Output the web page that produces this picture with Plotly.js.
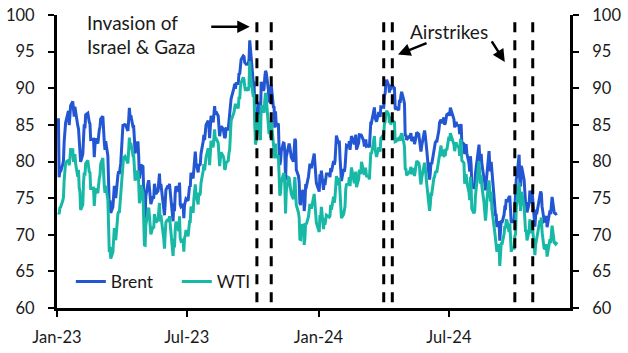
<!DOCTYPE html>
<html>
<head>
<meta charset="utf-8">
<script src="https://cdn.plot.ly/plotly-3.0.1.min.js"></script>
<style>html,body{margin:0;padding:0;background:#fff;}#chart{width:628px;height:353px;}</style>
</head>
<body>
<div id="chart"></div>
<script>
// ---- Data (daily closes, US$ per barrel) ----
const dates2023 = [
'2023-01-03','2023-01-04','2023-01-05','2023-01-06','2023-01-09','2023-01-10','2023-01-11','2023-01-12','2023-01-13','2023-01-17','2023-01-18','2023-01-19','2023-01-20','2023-01-23','2023-01-24','2023-01-25','2023-01-26','2023-01-27','2023-01-30','2023-01-31',
'2023-02-01','2023-02-02','2023-02-03','2023-02-06','2023-02-07','2023-02-08','2023-02-09','2023-02-10','2023-02-13','2023-02-14','2023-02-15','2023-02-16','2023-02-17','2023-02-21','2023-02-22','2023-02-23','2023-02-24','2023-02-27','2023-02-28',
'2023-03-01','2023-03-02','2023-03-03','2023-03-06','2023-03-07','2023-03-08','2023-03-09','2023-03-10','2023-03-13','2023-03-14','2023-03-15','2023-03-16','2023-03-17','2023-03-20','2023-03-21','2023-03-22','2023-03-23','2023-03-24','2023-03-27','2023-03-28','2023-03-29','2023-03-30','2023-03-31',
'2023-04-03','2023-04-04','2023-04-05','2023-04-06','2023-04-10','2023-04-11','2023-04-12','2023-04-13','2023-04-14','2023-04-17','2023-04-18','2023-04-19','2023-04-20','2023-04-21','2023-04-24','2023-04-25','2023-04-26','2023-04-27','2023-04-28',
'2023-05-01','2023-05-02','2023-05-03','2023-05-04','2023-05-05','2023-05-08','2023-05-09','2023-05-10','2023-05-11','2023-05-12','2023-05-15','2023-05-16','2023-05-17','2023-05-18','2023-05-19','2023-05-22','2023-05-23','2023-05-24','2023-05-25','2023-05-26','2023-05-30','2023-05-31',
'2023-06-01','2023-06-02','2023-06-05','2023-06-06','2023-06-07','2023-06-08','2023-06-09','2023-06-12','2023-06-13','2023-06-14','2023-06-15','2023-06-16','2023-06-20','2023-06-21','2023-06-22','2023-06-23','2023-06-26','2023-06-27','2023-06-28','2023-06-29','2023-06-30',
'2023-07-03','2023-07-05','2023-07-06','2023-07-07','2023-07-10','2023-07-11','2023-07-12','2023-07-13','2023-07-14','2023-07-17','2023-07-18','2023-07-19','2023-07-20','2023-07-21','2023-07-24','2023-07-25','2023-07-26','2023-07-27','2023-07-28','2023-07-31',
'2023-08-01','2023-08-02','2023-08-03','2023-08-04','2023-08-07','2023-08-08','2023-08-09','2023-08-10','2023-08-11','2023-08-14','2023-08-15','2023-08-16','2023-08-17','2023-08-18','2023-08-21','2023-08-22','2023-08-23','2023-08-24','2023-08-25','2023-08-28','2023-08-29','2023-08-30','2023-08-31',
'2023-09-01','2023-09-05','2023-09-06','2023-09-07','2023-09-08','2023-09-11','2023-09-12','2023-09-13','2023-09-14','2023-09-15','2023-09-18','2023-09-19','2023-09-20','2023-09-21','2023-09-22','2023-09-25','2023-09-26','2023-09-27','2023-09-28','2023-09-29',
'2023-10-02','2023-10-03','2023-10-04','2023-10-05','2023-10-06','2023-10-09','2023-10-10','2023-10-11','2023-10-12','2023-10-13','2023-10-16','2023-10-17','2023-10-18','2023-10-19','2023-10-20','2023-10-23','2023-10-24','2023-10-25','2023-10-26','2023-10-27','2023-10-30','2023-10-31',
'2023-11-01','2023-11-02','2023-11-03','2023-11-06','2023-11-07','2023-11-08','2023-11-09','2023-11-10','2023-11-13','2023-11-14','2023-11-15','2023-11-16','2023-11-17','2023-11-20','2023-11-21','2023-11-22','2023-11-24','2023-11-27','2023-11-28','2023-11-29','2023-11-30',
'2023-12-01','2023-12-04','2023-12-05','2023-12-06','2023-12-07','2023-12-08','2023-12-11','2023-12-12','2023-12-13','2023-12-14','2023-12-15','2023-12-18','2023-12-19','2023-12-20','2023-12-21','2023-12-22','2023-12-26','2023-12-27','2023-12-28','2023-12-29'
];
const brent2023 = [
85.9,77.84,78.69,78.57,79.65,80.10,82.67,83.96,85.28,86.92,84.98,86.16,87.63,88.19,86.13,86.12,87.47,86.66,84.90,84.49,
82.84,82.17,79.94,80.99,83.69,85.09,84.50,86.39,86.61,85.58,85.38,85.14,83.00,83.05,80.60,82.21,83.16,82.45,83.89,
84.31,84.75,85.83,86.18,83.29,82.66,81.59,82.78,80.77,77.45,73.69,74.70,72.97,73.79,75.32,76.69,75.91,74.99,78.12,78.65,78.28,79.27,79.77,
84.93,84.94,84.99,85.12,84.18,85.61,87.33,86.09,86.31,84.76,84.77,83.12,81.10,81.66,82.73,80.77,77.69,78.37,79.54,
79.31,75.32,72.33,72.50,75.30,77.01,77.44,76.41,74.98,74.17,75.23,74.91,76.96,75.86,75.58,75.99,76.84,78.36,76.26,76.95,73.54,72.66,
74.28,76.13,76.71,76.29,76.95,75.96,74.79,71.84,74.29,73.20,75.67,76.61,75.90,77.12,74.14,73.85,74.18,72.26,74.03,74.34,74.90,
74.65,76.65,76.52,78.47,77.69,79.40,80.11,81.36,79.87,78.50,79.63,79.46,79.64,81.07,82.74,83.64,82.92,84.24,84.99,85.56,
84.91,83.20,85.14,86.24,85.34,86.17,87.55,86.40,86.81,86.21,84.89,83.45,84.12,84.80,84.46,84.03,83.21,83.36,84.48,84.42,85.49,85.86,86.86,
88.55,90.04,90.60,89.92,90.65,90.64,92.06,91.88,93.70,93.93,94.43,94.34,93.53,93.30,93.27,93.29,93.96,96.55,95.38,95.31,
90.71,90.92,85.81,84.07,84.58,88.15,87.65,85.82,86.00,90.89,89.65,89.90,91.50,92.38,92.16,89.83,88.07,90.13,87.93,90.48,87.45,87.41,
84.63,86.85,84.89,85.18,81.61,79.54,80.01,81.43,82.52,82.47,81.18,77.42,80.61,82.32,82.45,81.96,80.58,79.98,81.68,83.10,82.83,
78.88,78.03,77.20,74.30,74.05,75.84,76.03,73.24,74.26,76.61,76.55,77.95,79.23,79.70,79.39,79.07,81.07,79.65,78.39,77.04
];
const wti2023 = [
73.0,72.84,73.67,73.77,74.63,75.12,77.41,78.39,79.86,80.18,79.48,80.33,81.64,81.62,80.13,80.15,81.01,79.68,77.90,78.87,
76.41,75.88,73.39,74.11,77.14,78.47,78.06,79.72,80.14,79.06,78.59,78.49,76.34,76.36,73.95,75.39,76.32,75.68,77.05,
77.69,78.16,79.68,80.46,77.58,76.66,75.72,76.68,74.80,71.33,67.61,68.35,66.74,67.64,69.33,70.90,69.96,69.26,72.81,73.20,72.97,74.37,75.67,
80.42,80.71,80.61,80.70,79.74,81.53,83.26,82.16,82.52,80.83,80.86,79.16,77.37,77.87,78.76,77.07,74.30,74.76,76.78,
75.66,71.66,68.60,68.56,71.34,73.16,73.71,72.56,70.87,70.04,71.11,70.86,72.83,71.86,71.69,71.99,72.91,74.34,71.83,72.67,69.46,68.09,
70.10,71.74,72.15,71.74,72.53,71.29,70.17,67.12,69.42,68.27,70.62,71.78,70.50,72.53,69.51,69.16,69.37,67.70,69.56,69.86,70.64,
69.79,71.79,71.80,73.86,72.99,74.83,75.75,76.89,75.42,74.15,75.75,75.35,75.63,77.07,78.74,79.63,78.78,80.09,80.58,81.80,
81.37,79.49,81.55,82.82,81.94,82.92,84.40,82.82,83.19,82.51,80.99,79.38,80.39,81.25,80.72,80.35,78.89,79.05,79.83,80.10,81.16,81.63,83.63,
85.55,86.69,87.54,87.87,87.51,87.29,88.84,88.52,90.16,90.77,91.48,91.20,90.28,89.63,90.03,89.68,90.39,93.68,91.71,90.79,
88.82,89.23,84.22,82.31,82.79,86.38,85.97,83.49,82.91,87.69,86.66,86.66,88.32,89.37,88.75,85.49,83.74,85.39,83.21,85.54,82.31,81.02,
80.44,82.46,80.51,80.82,77.37,75.33,75.74,77.17,78.26,78.26,76.66,72.90,75.89,77.83,77.77,77.10,75.54,74.86,76.41,77.86,75.96,
74.07,73.04,72.32,69.38,69.34,71.23,71.32,68.61,69.47,71.58,71.43,72.47,73.44,74.22,73.89,73.56,75.57,74.11,71.77,71.65
];
const dates2024 = [
'2024-01-02','2024-01-03','2024-01-04','2024-01-05','2024-01-08','2024-01-09','2024-01-10','2024-01-11','2024-01-12','2024-01-16','2024-01-17','2024-01-18','2024-01-19','2024-01-22','2024-01-23','2024-01-24','2024-01-25','2024-01-26','2024-01-29','2024-01-30','2024-01-31',
'2024-02-01','2024-02-02','2024-02-05','2024-02-06','2024-02-07','2024-02-08','2024-02-09','2024-02-12','2024-02-13','2024-02-14','2024-02-15','2024-02-16','2024-02-20','2024-02-21','2024-02-22','2024-02-23','2024-02-26','2024-02-27','2024-02-28','2024-02-29',
'2024-03-01','2024-03-04','2024-03-05','2024-03-06','2024-03-07','2024-03-08','2024-03-11','2024-03-12','2024-03-13','2024-03-14','2024-03-15','2024-03-18','2024-03-19','2024-03-20','2024-03-21','2024-03-22','2024-03-25','2024-03-26','2024-03-27','2024-03-28',
'2024-04-01','2024-04-02','2024-04-03','2024-04-04','2024-04-05','2024-04-08','2024-04-09','2024-04-10','2024-04-11','2024-04-12','2024-04-15','2024-04-16','2024-04-17','2024-04-18','2024-04-19','2024-04-22','2024-04-23','2024-04-24','2024-04-25','2024-04-26','2024-04-29','2024-04-30',
'2024-05-01','2024-05-02','2024-05-03','2024-05-06','2024-05-07','2024-05-08','2024-05-09','2024-05-10','2024-05-13','2024-05-14','2024-05-15','2024-05-16','2024-05-17','2024-05-20','2024-05-21','2024-05-22','2024-05-23','2024-05-24','2024-05-28','2024-05-29','2024-05-30','2024-05-31',
'2024-06-03','2024-06-04','2024-06-05','2024-06-06','2024-06-07','2024-06-10','2024-06-11','2024-06-12','2024-06-13','2024-06-14','2024-06-17','2024-06-18','2024-06-20','2024-06-21','2024-06-24','2024-06-25','2024-06-26','2024-06-27','2024-06-28',
'2024-07-01','2024-07-02','2024-07-03','2024-07-05','2024-07-08','2024-07-09','2024-07-10','2024-07-11','2024-07-12','2024-07-15','2024-07-16','2024-07-17','2024-07-18','2024-07-19','2024-07-22','2024-07-23','2024-07-24','2024-07-25','2024-07-26','2024-07-29','2024-07-30','2024-07-31',
'2024-08-01','2024-08-02','2024-08-05','2024-08-06','2024-08-07','2024-08-08','2024-08-09','2024-08-12','2024-08-13','2024-08-14','2024-08-15','2024-08-16','2024-08-19','2024-08-20','2024-08-21','2024-08-22','2024-08-23','2024-08-26','2024-08-27','2024-08-28','2024-08-29','2024-08-30',
'2024-09-03','2024-09-04','2024-09-05','2024-09-06','2024-09-09','2024-09-10','2024-09-11','2024-09-12','2024-09-13','2024-09-16','2024-09-17','2024-09-18','2024-09-19','2024-09-20','2024-09-23','2024-09-24','2024-09-25','2024-09-26','2024-09-27','2024-09-30',
'2024-10-01','2024-10-02','2024-10-03','2024-10-04','2024-10-07','2024-10-08','2024-10-09','2024-10-10','2024-10-11','2024-10-14','2024-10-15','2024-10-16','2024-10-17','2024-10-18','2024-10-21','2024-10-22','2024-10-23','2024-10-24','2024-10-25','2024-10-28','2024-10-29','2024-10-30','2024-10-31',
'2024-11-01','2024-11-04','2024-11-05','2024-11-06','2024-11-07','2024-11-08','2024-11-11','2024-11-12','2024-11-13','2024-11-14','2024-11-15','2024-11-18','2024-11-19','2024-11-20','2024-11-21','2024-11-22','2024-11-25','2024-11-26','2024-11-27','2024-11-29'
];
const brent2024 = [
75.89,78.25,77.59,78.76,76.12,77.59,76.80,77.41,78.29,78.29,77.88,79.10,78.56,80.06,79.55,80.04,82.43,83.55,82.40,82.87,80.55,
78.70,77.33,78.99,78.59,79.21,81.63,82.19,82.00,82.77,81.60,82.86,83.47,82.34,83.03,83.67,81.62,82.53,83.65,83.68,83.62,
83.55,82.80,82.04,82.96,83.00,82.08,82.21,81.92,84.03,85.42,85.34,86.89,87.38,85.95,85.78,85.43,86.75,86.25,86.09,87.48,
87.42,88.92,89.35,90.65,91.17,90.38,89.42,90.48,89.74,90.45,90.10,90.02,87.29,87.11,87.29,87.00,88.42,88.02,89.01,89.50,88.40,87.86,
83.44,83.67,82.96,83.33,83.16,83.58,83.88,82.79,83.36,82.38,82.75,83.27,83.98,83.71,82.88,81.90,81.36,82.12,84.22,83.60,81.86,81.62,
78.36,77.52,78.41,79.87,79.62,81.63,81.92,82.60,82.75,82.62,84.25,85.33,85.71,85.24,86.01,85.01,85.25,86.39,86.41,
86.60,86.24,87.34,86.54,85.75,84.66,85.08,85.40,85.03,84.85,83.73,85.08,85.11,82.63,82.40,81.01,81.71,82.37,81.13,79.78,78.63,80.72,
79.52,76.81,76.30,76.48,78.33,79.16,79.66,82.30,80.69,79.76,81.04,79.68,77.66,77.20,76.05,77.22,79.02,81.43,79.55,78.65,79.94,78.80,
73.75,72.70,72.69,71.06,71.84,69.19,70.61,71.97,71.61,72.75,73.70,73.65,74.88,74.49,75.17,75.17,73.46,71.60,71.98,71.77,
73.56,75.90,77.62,78.05,80.93,77.18,76.58,79.40,79.04,77.46,74.25,74.22,74.45,73.06,74.29,76.04,74.96,74.38,76.05,71.42,71.12,72.55,73.16,
73.10,75.08,75.53,75.92,75.63,73.87,71.83,71.89,72.28,72.56,71.04,73.30,73.31,72.81,74.23,75.17,73.01,72.81,72.83,72.94
];
const wti2024 = [
70.38,72.70,72.19,73.81,70.77,72.24,71.37,72.02,72.68,72.40,72.56,74.08,73.41,75.19,74.37,75.09,77.36,78.01,76.78,77.82,75.85,
73.82,72.28,72.78,73.31,73.86,76.22,76.84,76.92,77.87,76.64,78.03,79.19,77.04,77.91,78.61,76.49,77.58,78.87,78.54,78.26,
79.97,78.74,78.15,79.13,78.93,78.01,77.93,77.56,79.72,81.26,81.04,82.72,83.47,81.68,81.07,80.63,81.95,81.62,81.35,83.17,
83.71,85.15,85.43,86.59,86.91,86.43,85.23,86.21,85.02,85.66,85.41,85.36,82.69,82.73,83.14,82.85,83.36,82.81,83.57,83.85,82.63,81.93,
79.00,78.95,78.11,78.48,78.38,78.99,79.26,78.26,79.12,78.02,78.63,79.23,80.06,79.80,79.26,77.57,76.87,77.72,79.83,79.23,77.91,76.99,
74.22,73.25,74.07,75.55,75.53,77.74,77.90,78.50,78.62,78.45,80.33,81.57,82.17,80.73,81.63,80.83,80.90,81.74,81.54,
83.38,82.81,83.88,83.16,82.33,81.41,82.10,82.62,82.21,81.91,80.76,82.85,82.82,80.13,79.78,76.96,77.59,78.28,77.16,75.81,74.73,77.91,
76.31,73.52,72.94,73.20,75.23,76.19,76.84,80.06,78.35,76.98,78.16,76.65,74.37,73.17,71.93,73.01,74.83,77.42,75.53,74.52,75.91,73.55,
70.34,69.20,69.15,67.67,68.71,65.75,67.31,68.97,68.65,70.09,71.19,70.91,71.95,71.92,70.37,71.56,69.69,67.67,68.18,68.17,
69.83,70.10,73.71,74.38,77.14,73.57,73.24,75.85,75.56,73.83,70.58,70.39,70.67,69.22,70.56,72.09,70.77,70.19,71.78,67.38,67.21,68.61,69.26,
69.49,71.47,71.99,71.69,72.36,70.38,68.04,68.12,68.43,68.70,67.02,69.16,69.39,68.87,70.10,71.24,68.94,68.77,68.72,69.0
];
const seriesNames = ['Brent', 'WTI'];
const seriesColors = ['#2356D2', '#17B9A6'];
const eventDates = ['2023-10-07', '2023-10-27', '2024-04-01', '2024-04-13', '2024-10-01', '2024-10-26'];
const tickDates = ['2023-01-01', '2023-07-01', '2024-01-01', '2024-07-01'];
const tickLabels = ['Jan-23', 'Jul-23', 'Jan-24', 'Jul-24'];
const yTicks = [60, 65, 70, 75, 80, 85, 90, 95, 100];

// ---- Build ----
const dates = dates2023.concat(dates2024);
const brent = brent2023.concat(brent2024);
const wti = wti2023.concat(wti2024);

const FONT = 'Lato, "Open Sans", sans-serif';
const TXT = '#1a1a1a';

const traces = [
  {x: dates, y: brent, name: seriesNames[0], type: 'scatter', mode: 'lines',
   line: {color: seriesColors[0], width: 3}, yaxis: 'y'},
  {x: dates, y: wti, name: seriesNames[1], type: 'scatter', mode: 'lines',
   line: {color: seriesColors[1], width: 3}, yaxis: 'y'},
  {x: dates, y: brent, type: 'scatter', mode: 'lines', line: {width: 0, color: 'rgba(0,0,0,0)'},
   showlegend: false, hoverinfo: 'skip', yaxis: 'y2'}
];

const shapes = eventDates.map(d => ({
  type: 'line', xref: 'x', yref: 'y', x0: d, x1: d, y0: 60.8, y1: 99.6,
  line: {color: '#000', width: 3, dash: '10px,8px'}, layer: 'above'
}));

const yaxisCommon = {
  range: [60, 100], tickvals: yTicks, ticks: 'outside', ticklen: 6, tickwidth: 2,
  tickcolor: '#000', showline: true, linecolor: '#000', linewidth: 3,
  showgrid: false, zeroline: false, ticklabelstandoff: 10,
  tickfont: {family: FONT, size: 16.5, color: TXT}, fixedrange: true
};

const annFont = {family: FONT, size: 19, color: TXT};
const arrowCommon = {showarrow: true, arrowhead: 2, arrowsize: 1, arrowwidth: 2.5, arrowcolor: '#000', text: ''};

const layout = {
  width: 628, height: 353,
  margin: {l: 57, r: 58, t: 15, b: 45, pad: 0},
  paper_bgcolor: '#fff', plot_bgcolor: '#fff',
  font: {family: FONT, size: 16, color: TXT},
  showlegend: true,
  legend: {orientation: 'h', x: 0.027, xanchor: 'left', y: 0.09, yanchor: 'middle',
           bgcolor: 'rgba(0,0,0,0)', font: {family: FONT, size: 17.5, color: TXT},
           entrywidth: 61, entrywidthmode: 'pixels', tracegroupgap: 0},
  xaxis: {type: 'date', range: ['2023-01-01', '2024-12-17'], tickvals: tickDates, ticktext: tickLabels,
          ticks: 'outside', ticklen: 6, tickwidth: 2, tickcolor: '#000', showline: true,
          linecolor: '#000', linewidth: 3, showgrid: false, zeroline: false,
          ticklabelstandoff: 6, tickfont: {family: FONT, size: 16.5, color: TXT}, fixedrange: true},
  yaxis: Object.assign({}, yaxisCommon, {side: 'left'}),
  yaxis2: Object.assign({}, yaxisCommon, {side: 'right', overlaying: 'y'}),
  shapes: shapes,
  annotations: [
    {xref: 'paper', yref: 'paper', x: 0.0546, y: 0.976, xanchor: 'left', yanchor: 'middle',
     text: 'Invasion of', showarrow: false, font: annFont},
    {xref: 'paper', yref: 'paper', x: 0.0546, y: 0.891, xanchor: 'left', yanchor: 'middle',
     text: 'Israel &amp; Gaza', showarrow: false, font: annFont},
    {xref: 'paper', yref: 'paper', x: 0.764, y: 0.945, xanchor: 'center', yanchor: 'middle',
     text: 'Airstrikes', showarrow: false, font: annFont},
    Object.assign({xref: 'x', yref: 'y', x: '2023-09-27', y: 98.4, ax: -40, ay: 0}, arrowCommon),
    Object.assign({xref: 'x', yref: 'y', x: '2024-04-21', y: 94.6, ax: 30, ay: -12}, arrowCommon),
    Object.assign({xref: 'x', yref: 'y', x: '2024-09-17', y: 93.6, ax: -14, ay: -22}, arrowCommon)
  ]
};

Plotly.newPlot('chart', traces, layout, {displayModeBar: false, staticPlot: true});
</script>
</body>
</html>
